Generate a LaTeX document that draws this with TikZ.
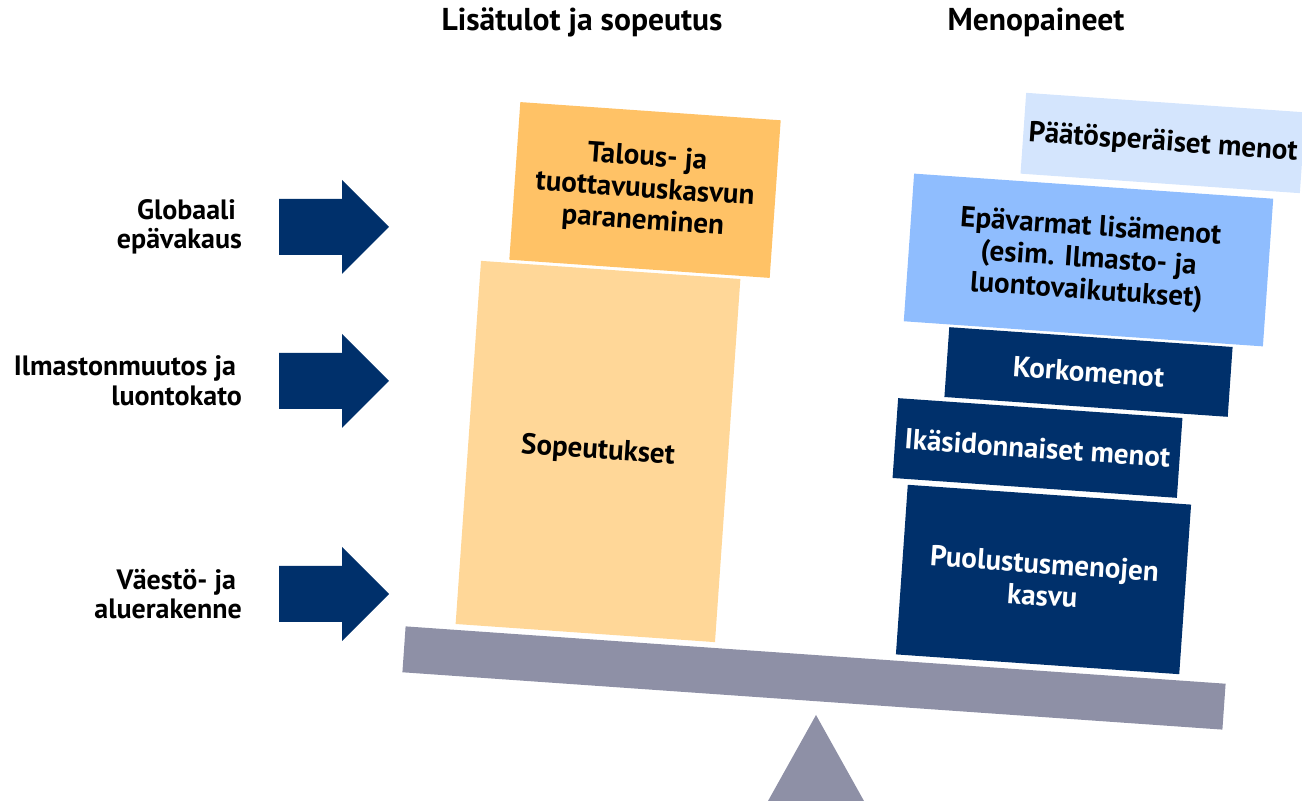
\documentclass[tikz,border=0pt]{standalone}
\usepackage{fontspec}
\setmainfont{PT Sans}
\definecolor{navy}{HTML}{00306B}
\definecolor{gainorange}{HTML}{FFC266}
\definecolor{adjustorange}{HTML}{FFD798}
\definecolor{paleblue}{HTML}{D4E5FD}
\definecolor{midblue}{HTML}{8FBDFE}
\definecolor{beamgray}{HTML}{8E90A6}
\begin{document}
\begin{tikzpicture}[
                x=0.5pt, y=-0.5pt,
                block/.style={
                    rotate=-4,
                    inner sep=0pt,
                    align=center,
                    font=\bfseries\fontsize{14.5}{16}\selectfont,
                },
                darkblock/.style={
                    block,
                    fill=navy,
                    text=white,
                },
                sidetext/.style={
                    anchor=east,
                    align=right,
                    font=\bfseries\fontsize{14}{14.8}\selectfont,
                },
                heading/.style={
                    font=\bfseries\fontsize{15.8}{17}\selectfont,
                },
            ]
            \useasboundingbox (0,0) rectangle (1302,801);

            \node [heading] (gains) at (582,22) {Lisätulot ja sopeutus};
            \node [heading] (costs) at (1036,22) {Menopaineet};

            \node [block, fill=gainorange, minimum width=130.5pt, minimum height=79pt]
                (growth) at (645,190) {Talous- ja\\tuottavuuskasvun\\paraneminen};
            \node [block, fill=adjustorange, minimum width=130pt, minimum height=182pt]
                (adjust) at (598,451.5) {Sopeutukset};

            \node [block, fill=paleblue, minimum width=140pt, minimum height=40.5pt]
                (decided) at (1163,143) {Päätösperäiset menot};
            \node [block, fill=midblue, minimum width=180pt, minimum height=74pt]
                (uncertain) at (1088.5,260) {Epävarmat lisämenot\\(esim. Ilmasto- ja\\luontovaikutukset)};
            \node [darkblock, minimum width=142pt, minimum height=35pt]
                (interest) at (1088.5,372) {Korkomenot};
            \node [darkblock, minimum width=142.5pt, minimum height=40pt]
                (ageing) at (1037.5,448) {Ikäsidonnaiset menot};
            \node [darkblock, minimum width=142pt, minimum height=85pt]
                (defence) at (1043.5,579.5) {Puolustusmenojen\\kasvu};

            \node [rotate=-4, fill=beamgray, inner sep=0pt, minimum width=411pt, minimum height=23pt]
                (beam) at (814,678) {};
            \fill [beamgray] (816,715) -- (864,801) -- (768,801) -- cycle;

            \foreach \ay in {227,381,594}
                \fill [navy] (279,\ay-28) -- (342,\ay-28) -- (342,\ay-47) -- (389,\ay)
                    -- (342,\ay+47) -- (342,\ay+28) -- (279,\ay+28) -- cycle;

            \node [sidetext] (global) at (249,227) {Globaali\kern3pt\\epävakaus};
            \node [sidetext] (climate) at (249,381) {Ilmastonmuutos ja\kern3pt\\luontokato};
            \node [sidetext] (population) at (249,594) {Väestö- ja\kern3pt\\aluerakenne};
        \end{tikzpicture}
\end{document}
